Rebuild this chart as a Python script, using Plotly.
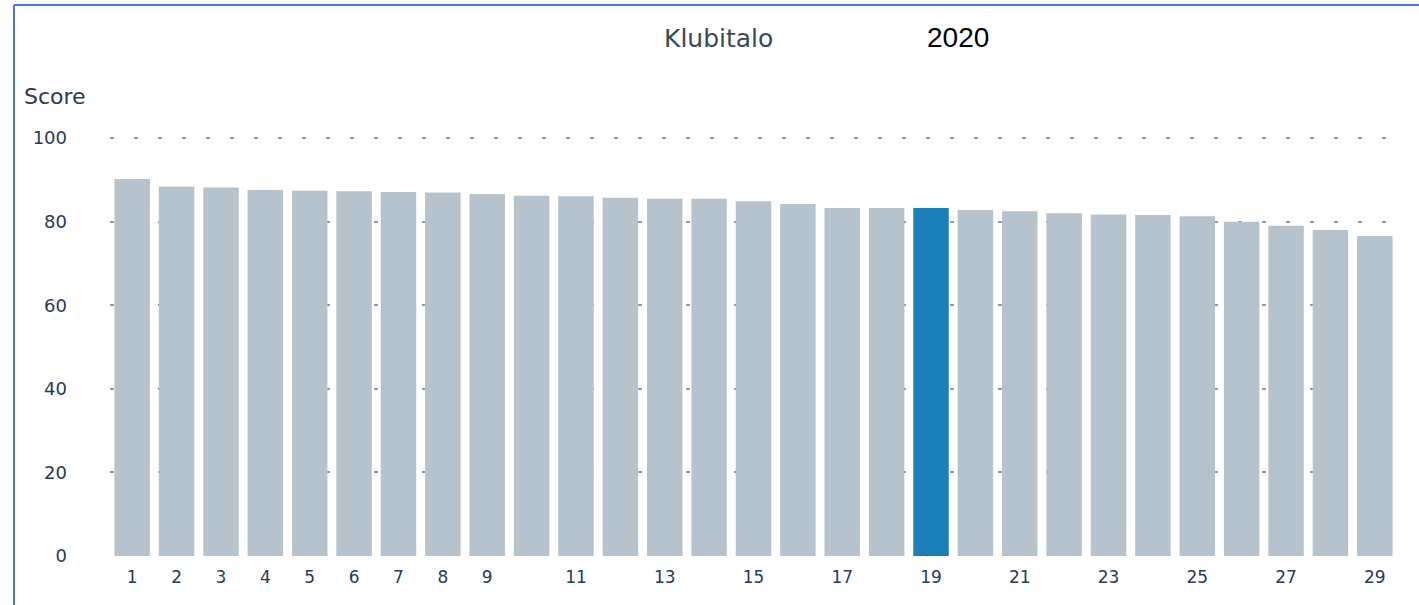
import plotly.graph_objects as go

categories = list(range(1, 30))
scores = [90.2, 88.4, 88.2, 87.6, 87.4, 87.3, 87.1, 87.0, 86.6, 86.2,
          86.1, 85.7, 85.5, 85.5, 84.9, 84.2, 83.3, 83.3, 83.3, 82.8,
          82.5, 82.0, 81.7, 81.6, 81.3, 80.0, 79.0, 78.0, 76.6]
highlight = 19
x_tick_vals = [1, 2, 3, 4, 5, 6, 7, 8, 9, 11, 13, 15, 17, 19, 21, 23, 25, 27, 29]
y_tick_vals = [0, 20, 40, 60, 80, 100]

GREY = "#b7c3cc"
BLUE = "#1b80b8"
TEXT = "#283a55"
FONT = "DejaVu Sans"

colors = [BLUE if c == highlight else GREY for c in categories]

fig = go.Figure(go.Bar(x=categories, y=scores, marker_color=colors,
                       marker_line_width=0, hoverinfo="x+y"))

fig.update_layout(
    width=1419, height=605,
    margin=dict(l=110, r=22, t=136, b=49),
    paper_bgcolor="white", plot_bgcolor="white",
    bargap=0.2, showlegend=False,
    font=dict(family=FONT, color=TEXT),
)
fig.update_xaxes(
    range=[0.5, 29.5], tickmode="array", tickvals=x_tick_vals,
    ticktext=[str(v) for v in x_tick_vals], showgrid=False, zeroline=False,
    showline=False, ticks="", ticklabelstandoff=9,
    tickfont=dict(size=17, color=TEXT, family=FONT),
)
fig.update_yaxes(
    range=[0, 100.5], tickmode="array", tickvals=y_tick_vals,
    showgrid=True, gridcolor="#8e9aa8", gridwidth=1.5, griddash="4px,20px",
    zeroline=False, showline=False, ticks="",
    ticklabelstandoff=42,
    tickfont=dict(size=18, color=TEXT, family=FONT),
)

fig.add_annotation(text="Score", xref="paper", yref="paper", x=-0.0684, y=1.093,
                   xanchor="left", yanchor="middle", showarrow=False,
                   font=dict(size=22, color=TEXT, family=FONT))
fig.add_annotation(text="Klubitalo", xref="paper", yref="paper", x=0.473, y=1.232,
                   xanchor="center", yanchor="middle", showarrow=False,
                   font=dict(size=25, color="#3c4856", family=FONT))
fig.add_annotation(text="2020", xref="paper", yref="paper", x=0.659, y=1.235,
                   xanchor="center", yanchor="middle", showarrow=False,
                   font=dict(size=28, color="black", family="Liberation Sans"))

# frame border (top and left)
fig.add_shape(type="line", xref="paper", yref="paper", x0=-0.0746, x1=1.1,
              y0=1.312, y1=1.312, line=dict(color="#4a78c8", width=2))
fig.add_shape(type="line", xref="paper", yref="paper", x0=-0.0746, x1=-0.0746,
              y0=1.312, y1=-0.2, line=dict(color="#4a78c8", width=2))

fig.write_html("out.html", config={"displayModeBar": False},
               post_script="document.body.style.margin='0';")
